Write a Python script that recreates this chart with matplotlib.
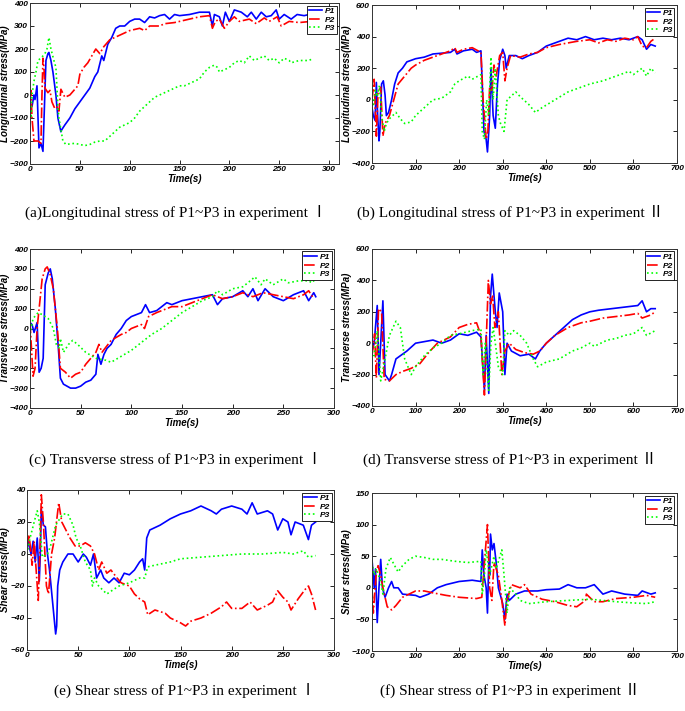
import matplotlib
matplotlib.use('Agg')
import matplotlib.pyplot as plt
from matplotlib.font_manager import FontProperties

# (a) Longitudinal stress, experiment I
a_t1 = [0, 2, 4, 5, 7, 9, 11, 13, 16, 18, 19, 21, 23, 26, 28, 31, 32, 35, 40, 45, 50, 55, 60, 65, 68, 72, 74,
        78, 82, 86, 90, 95, 100, 105, 110, 115, 120, 125, 130, 135, 140, 145, 150, 160, 170, 180, 183, 185,
        190, 193, 196, 200, 205, 212, 218, 222, 227, 232, 237, 242, 247, 250, 255, 262, 268, 275, 280, 282]
a_p1 = [-50, -50, 0, -20, 40, -230, -210, -245, 150, 180, 185, 150, 100, 0, -100, -160, -150, -130, -100, -60,
        -30, 0, 30, 80, 100, 170, 150, 220, 250, 290, 300, 300, 320, 330, 330, 315, 340, 335, 345, 350, 330,
        350, 345, 350, 360, 360, 300, 350, 340, 300, 360, 320, 370, 360, 340, 360, 330, 360, 340, 345, 370,
        330, 350, 330, 350, 345, 350, 320]
a_t2 = [0, 1, 2, 4, 8, 11, 12, 13, 14, 15, 18, 20, 22, 25, 28, 29, 31, 35, 40, 44, 48, 50, 54, 58, 62, 66, 70,
        74, 80, 85, 90, 95, 100, 110, 115, 120, 130, 135, 145, 150, 160, 170, 180, 183, 186, 190, 195, 200,
        205, 210, 220, 227, 235, 240, 248, 252, 260, 270, 282]
a_p2 = [0, 20, -100, -200, -200, -210, 0, 160, 120, 30, 10, 20, -30, -60, -50, -70, 25, -10, 0, 20, 40, 90, 120,
        140, 170, 200, 180, 210, 240, 250, 260, 270, 280, 290, 280, 300, 300, 310, 315, 320, 330, 340, 345,
        290, 320, 330, 290, 320, 340, 320, 330, 310, 335, 320, 340, 300, 320, 315, 320]
a_t3 = [0, 1, 2, 4, 6, 8, 12, 15, 17, 19, 21, 24, 26, 28, 29, 31, 33, 36, 45, 55, 60, 65, 70, 75, 80, 85, 90,
        100, 105, 110, 115, 120, 125, 130, 135, 140, 145, 150, 155, 160, 165, 170, 175, 180, 185, 188, 190,
        195, 200, 205, 210, 215, 220, 225, 230, 235, 240, 245, 250, 255, 260, 262, 270, 280, 282]
a_p3 = [-50, -100, 0, 60, 100, 150, 165, 180, 200, 250, 200, 150, 120, -50, -100, -150, -200, -215, -210, -220,
        -215, -205, -200, -200, -180, -160, -140, -120, -100, -70, -50, -30, -10, 0, 10, 20, 30, 40, 40, 50,
        60, 70, 100, 120, 130, 120, 100, 110, 120, 140, 150, 140, 170, 150, 160, 170, 150, 160, 140, 160,
        150, 140, 150, 150, 155]

# (b) Longitudinal stress, experiment II
b_t1 = [0, 3, 7, 10, 13, 16, 18, 22, 26, 30, 33, 38, 45, 52, 60, 70, 80, 100, 120, 140, 160, 180, 190, 195,
        210, 230, 240, 250, 253, 257, 262, 265, 268, 270, 273, 278, 283, 288, 293, 300, 305, 308, 315, 330,
        345, 360, 380, 400, 430, 450, 470, 490, 510, 530, 550, 570, 590, 610, 620, 630, 640, 650]
b_p1 = [-50, -100, -130, 110, -100, -260, -200, 100, 120, 30, -100, -80, 0, 100, 170, 200, 240, 260, 270, 290,
        295, 300, 320, 290, 310, 320, 300, 310, 100, -200, -250, -330, -200, -100, 200, -100, -180, 100, 250,
        320, 280, 200, 280, 280, 260, 280, 300, 340, 370, 390, 380, 400, 380, 390, 380, 390, 380, 400, 380,
        320, 350, 340]
b_t2 = [0, 5, 10, 14, 20, 25, 30, 40, 50, 60, 75, 90, 100, 120, 140, 160, 180, 190, 195, 210, 230, 250, 255,
        262, 266, 270, 275, 280, 285, 293, 300, 305, 310, 318, 340, 360, 380, 400, 430, 450, 470, 500, 520,
        540, 560, 580, 600, 610, 620, 630, 640, 650]
b_p2 = [0, 130, -230, 50, 80, -230, -150, -100, 0, 100, 150, 200, 220, 250, 270, 290, 310, 330, 300, 320, 330,
        300, 0, -250, -200, 80, 50, 220, 150, 280, 300, 120, 200, 280, 270, 290, 300, 330, 350, 360, 370,
        380, 360, 380, 370, 390, 380, 400, 340, 330, 370, 390]
b_t3 = [0, 3, 8, 12, 17, 22, 28, 33, 40, 55, 65, 75, 90, 100, 120, 140, 160, 180, 190, 200, 220, 230, 250, 253,
        258, 263, 268, 273, 278, 283, 290, 295, 303, 310, 330, 340, 360, 375, 390, 420, 450, 480, 500, 530,
        560, 590, 600, 620, 630, 640, 650]
b_p3 = [0, -30, 60, 20, 90, -100, -200, -150, -120, -80, -120, -150, -140, -100, -50, 0, 10, 50, 100, 120, 150,
        130, 160, -200, -250, 0, -100, 270, 0, 200, -100, -150, -200, 0, 50, 20, -30, -80, -50, 0, 50, 80,
        100, 120, 150, 180, 160, 200, 150, 200, 170]

# (c) Transverse stress, experiment I
c_t1 = [0, 2, 4, 7, 9, 11, 13, 15, 18, 20, 22, 25, 28, 30, 33, 40, 45, 50, 55, 60, 65, 67, 70, 73, 76, 80, 85,
        90, 95, 100, 105, 110, 114, 118, 125, 135, 140, 150, 160, 170, 180, 185, 190, 200, 210, 215, 220,
        225, 232, 240, 250, 260, 270, 275, 280, 282]
c_p1 = [30, 20, -20, 30, -220, -200, -150, 220, 280, 300, 250, 100, -100, -250, -280, -300, -300, -290, -270,
        -260, -230, -130, -180, -130, -100, -80, -30, 0, 40, 60, 70, 80, 120, 80, 90, 130, 120, 140, 150, 160,
        170, 120, 150, 160, 190, 160, 200, 140, 200, 160, 140, 170, 190, 140, 180, 160]
c_t2 = [0, 3, 5, 7, 9, 12, 15, 17, 20, 23, 27, 30, 35, 40, 45, 50, 55, 60, 65, 68, 71, 80, 90, 95, 100, 110,
        113, 117, 125, 130, 140, 150, 160, 170, 180, 190, 200, 210, 220, 230, 240, 250, 260, 270, 275, 280]
c_p2 = [30, -240, -200, 0, 100, 250, 300, 310, 270, 200, 0, -200, -220, -250, -230, -220, -180, -150, -120,
        -80, -120, -60, -30, -20, 0, 20, 0, 60, 80, 90, 110, 110, 130, 150, 170, 150, 160, 180, 160, 180, 170,
        160, 150, 170, 190, 150]
c_t3 = [0, 3, 8, 12, 18, 23, 26, 29, 30, 33, 38, 42, 47, 55, 65, 75, 80, 90, 100, 110, 120, 130, 140, 150, 160,
        170, 180, 185, 190, 200, 210, 215, 222, 228, 232, 240, 250, 255, 265, 275, 278, 282]
c_p3 = [-30, 50, 80, 70, 50, 0, -80, -100, -50, -120, -80, -60, -80, -120, -150, -160, -170, -140, -110, -70,
        -30, 0, 40, 80, 110, 140, 160, 190, 170, 200, 210, 230, 260, 220, 250, 220, 250, 230, 240, 240, 230,
        250]

# (d) Transverse stress, experiment II
d_t1 = [0, 5, 12, 16, 20, 25, 30, 40, 45, 55, 70, 80, 100, 120, 140, 160, 180, 200, 220, 240, 250, 258, 262,
        268, 272, 276, 283, 287, 292, 300, 305, 310, 320, 340, 360, 375, 385, 400, 420, 440, 460, 480, 500,
        520, 550, 580, 610, 620, 630, 640, 650]
d_p1 = [-50, 0, 240, -200, 0, 270, -200, -240, -200, -100, -70, -50, 0, 10, 20, 0, 20, 60, 50, 70, 40, -300,
        50, -320, 300, 440, 200, 100, 320, 200, -200, 0, -50, -80, -70, -100, -50, 0, 50, 100, 150, 180, 200,
        210, 220, 230, 240, 270, 200, 220, 220]
d_t2 = [0, 6, 10, 15, 22, 28, 40, 55, 70, 90, 110, 130, 150, 180, 200, 220, 240, 250, 258, 262, 267, 272, 277,
        282, 290, 298, 305, 315, 330, 350, 370, 385, 400, 420, 450, 480, 500, 530, 560, 590, 610, 620, 640,
        650]
d_p2 = [-80, 60, -220, 220, 200, -230, -240, -200, -180, -160, -130, -60, 0, 40, 100, 120, 130, 50, -330, 0,
        400, 250, 300, 100, 200, -200, -50, 0, -40, -60, -70, -50, 0, 50, 100, 130, 140, 160, 170, 180, 190,
        160, 180, 200]
d_t3 = [0, 5, 12, 20, 30, 40, 55, 65, 75, 90, 100, 120, 140, 160, 180, 200, 230, 250, 255, 260, 268, 273, 278,
        283, 290, 300, 305, 315, 325, 340, 355, 370, 380, 400, 430, 460, 480, 500, 510, 540, 560, 580, 600,
        620, 630, 650]
d_p3 = [-50, -80, 80, -240, -100, 50, 140, 100, -100, -200, -150, -80, -30, 0, 50, 60, 80, 90, -200, 0, -300,
        0, 100, 0, -150, -200, 80, 50, 80, 50, 0, -100, -150, -120, -100, -50, -30, 0, -20, 20, 30, 50, 60,
        100, 50, 80]

# (e) Shear stress, experiment I
e_t1 = [0, 2, 4, 6, 8, 10, 12, 13, 14, 16, 18, 20, 22, 25, 28, 29, 30, 32, 35, 40, 45, 50, 55, 58, 62, 65, 68,
        72, 75, 80, 85, 90, 95, 100, 105, 110, 113, 115, 117, 120, 130, 140, 150, 160, 170, 180, 185, 190,
        200, 210, 215, 220, 225, 235, 240, 245, 250, 255, 258, 262, 270, 275, 278, 282]
e_p1 = [10, 5, 0, 8, -5, 10, -17, 0, 28, 18, 17, 0, -10, -30, -50, -45, -20, -10, -5, 0, 0, -5, 0, -2, -7, 0,
        -15, -10, -15, -18, -15, -18, -12, -13, -10, -5, -3, -10, 10, 15, 18, 22, 25, 27, 30, 27, 25, 28, 30,
        28, 25, 32, 25, 27, 25, 15, 22, 20, 12, 20, 18, 9, 18, 20]
e_t2 = [0, 2, 4, 5, 7, 11, 13, 14, 16, 19, 21, 24, 27, 31, 34, 38, 42, 47, 52, 57, 62, 66, 70, 73, 78, 82, 88,
        92, 100, 105, 110, 115, 118, 125, 135, 140, 150, 155, 160, 170, 180, 190, 195, 200, 210, 218, 225,
        235, 240, 245, 250, 255, 258, 265, 272, 275, 278, 282]
e_p2 = [5, 12, 0, -7, 8, -29, 10, 37, 20, -20, -25, 0, 10, 32, 20, 15, 10, 5, 5, 7, 5, 0, -10, -5, -12, -10,
        -15, -18, -20, -25, -28, -30, -38, -35, -37, -40, -43, -45, -42, -40, -37, -33, -30, -34, -34, -30,
        -35, -32, -30, -23, -27, -30, -35, -28, -22, -20, -25, -35]
e_t3 = [0, 3, 7, 10, 12, 15, 20, 23, 28, 35, 40, 45, 48, 52, 57, 62, 64, 66, 70, 78, 85, 90, 100, 110, 115,
        118, 125, 140, 150, 170, 190, 210, 230, 250, 260, 270, 275, 282]
e_p3 = [0, 10, 20, 27, 20, -2, 0, 5, 18, 25, 25, 18, 10, 5, -5, -10, -20, -15, -20, -25, -22, -20, -18, -15,
        -15, -8, -7, -5, -3, -2, -1, 0, 0, 1, 0, 2, -2, -1]

# (f) Shear stress, experiment II
f_t1 = [0, 5, 8, 12, 16, 20, 24, 30, 38, 45, 50, 60, 70, 100, 110, 130, 150, 170, 200, 230, 250, 253, 257,
        262, 265, 268, 270, 272, 276, 280, 285, 290, 300, 305, 310, 315, 330, 350, 380, 400, 430, 450, 470,
        490, 510, 530, 550, 580, 610, 620, 640, 650]
f_p1 = [45, 0, 30, -55, 0, 45, 0, -15, 0, 10, 0, 0, -10, -12, -15, -10, 0, 5, 10, 12, 10, 60, 20, 0, -40, 40,
        20, 85, 60, 70, 40, 0, -25, -50, -10, -20, -10, -5, -5, -3, -2, 5, 0, 0, 5, -10, -5, -10, -12, -5,
        -10, -8]
f_t2 = [0, 3, 10, 14, 20, 25, 35, 45, 55, 70, 85, 100, 120, 140, 170, 200, 240, 252, 258, 265, 270, 275, 280,
        290, 298, 305, 310, 320, 340, 350, 365, 390, 420, 450, 470, 490, 492, 510, 530, 560, 600, 630, 650]
f_p2 = [0, -40, 25, 35, 20, 0, -30, -35, -28, -15, -10, -5, -5, -8, -12, -15, -17, -15, 40, 100, 0, -20, 40,
        20, -20, -60, -20, 5, 0, 5, -10, -18, -22, -28, -30, -20, -10, -22, -22, -17, -15, -12, -15]
f_t3 = [0, 5, 10, 15, 20, 25, 32, 42, 52, 60, 70, 85, 100, 120, 140, 160, 190, 220, 250, 253, 258, 262, 270,
        280, 285, 298, 303, 310, 316, 330, 340, 360, 400, 450, 500, 530, 560, 600, 630, 650]
f_p3 = [40, 20, 30, 20, 10, -10, 30, 48, 35, 25, 35, 45, 50, 48, 45, 45, 42, 40, 42, -10, 20, 60, 20, 50, 30,
        60, 20, -40, 0, -10, -20, -25, -22, -20, -18, -20, -22, -24, -25, -22]

captions = ['(a)Longitudinal stress of P1~P3 in experiment \u2160',
            '(b) Longitudinal stress of P1~P3 in experiment \u2161',
            '(c) Transverse stress of P1~P3 in experiment \u2160',
            '(d) Transverse stress of P1~P3 in experiment \u2161',
            '(e) Shear stress of P1~P3 in experiment \u2160',
            '(f) Shear stress of P1~P3 in experiment \u2161']

W, H = 685, 711
fig = plt.figure(figsize=(W / 100, H / 100), dpi=100)

bi = FontProperties(family='Liberation Sans', weight='bold', style='italic', size=6)
lab = FontProperties(family='Liberation Sans', weight='bold', style='italic', size=7)
leg = FontProperties(family='Liberation Sans', weight='bold', style='italic', size=6)


def panel(box, series, xlim, xticks, ylim, yticks, ylabel, ylab_x, caption, cap_xy):
    x0, y0, x1, y1 = box
    ax = fig.add_axes([x0 / W, 1 - y1 / H, (x1 - x0) / W, (y1 - y0) / H])
    ax.plot(series[0][0], series[0][1], color='#0000ff', lw=1.2, label='P1')
    ax.plot(series[1][0], series[1][1], color='#ff0000', lw=1.2, ls='-.', label='P2')
    ax.plot(series[2][0], series[2][1], color='#00ff00', lw=1.2, ls=':', label='P3')
    ax.set_xlim(xlim)
    ax.set_ylim(ylim)
    ax.set_xticks(xticks)
    ax.set_yticks(yticks)
    ax.tick_params(direction='in', top=True, right=True, length=3, width=0.6, pad=1.5)
    for t in ax.get_xticklabels() + ax.get_yticklabels():
        t.set_fontproperties(bi)
    for s in ax.spines.values():
        s.set_linewidth(0.7)
        s.set_color('#333333')
    ax.set_xlabel('Time(s)', fontproperties=lab, labelpad=1)
    ax.set_ylabel(ylabel, fontproperties=lab)
    # rotated label: x is its right-hand side
    ax.yaxis.set_label_coords(ylab_x / W, 1 - (y0 + y1) / 2 / H, transform=fig.transFigure)
    lg = ax.legend(loc='upper right', prop=leg, handlelength=1.6, borderpad=0.2, labelspacing=0.1,
                   handletextpad=0.3, borderaxespad=0.3, fancybox=False, framealpha=1)
    lg.get_frame().set_edgecolor('black')
    lg.get_frame().set_linewidth(0.6)
    fig.text(cap_xy[0] / W, 1 - cap_xy[1] / H, caption, ha='center', va='center', fontsize=11,
             family=['Liberation Serif', 'Noto Sans CJK SC'])
    return ax


panel((30, 3, 339, 164), [(a_t1, a_p1), (a_t2, a_p2), (a_t3, a_p3)], (0, 310), range(0, 301, 50),
      (-300, 400), range(-300, 401, 100), 'Longitudinal stress(MPa)', 10.5, captions[0], (176, 212))
panel((372, 5, 677, 163), [(b_t1, b_p1), (b_t2, b_p2), (b_t3, b_p3)], (0, 700), range(0, 701, 100),
      (-400, 600), range(-400, 601, 200), 'Longitudinal stress(MPa)', 352, captions[1], (510, 212))
panel((30, 249, 334, 408), [(c_t1, c_p1), (c_t2, c_p2), (c_t3, c_p3)], (0, 300), range(0, 301, 50),
      (-400, 400), range(-400, 401, 100), 'Transverse stress(MPa)', 10.5, captions[2], (176, 459))
panel((372, 249, 677, 406), [(d_t1, d_p1), (d_t2, d_p2), (d_t3, d_p3)], (0, 700), range(0, 701, 100),
      (-400, 600), range(-400, 601, 200), 'Transverse stress(MPa)', 352, captions[3], (510, 459))
panel((27, 490, 334, 650), [(e_t1, e_p1), (e_t2, e_p2), (e_t3, e_p3)], (0, 300), range(0, 301, 50),
      (-60, 40), range(-60, 41, 20), 'Shear stress(MPa)', 10.5, captions[4], (185, 690))
panel((372, 493, 677, 651), [(f_t1, f_p1), (f_t2, f_p2), (f_t3, f_p3)], (0, 700), range(0, 701, 100),
      (-100, 150), range(-100, 151, 50), 'Shear stress(MPa)', 352, captions[5], (510, 690))

fig.savefig('out.png', dpi=100)
